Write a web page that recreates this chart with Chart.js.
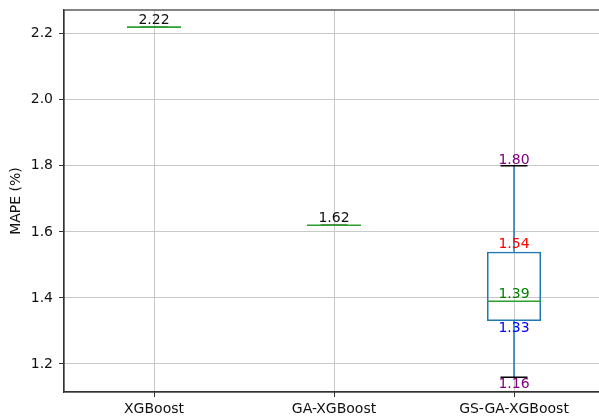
<!DOCTYPE html>
<html>
<head>
<meta charset="utf-8">
<script src="https://cdn.jsdelivr.net/npm/chart.js@4/dist/chart.umd.min.js"></script>
<style>
  html, body { margin: 0; padding: 0; background: #ffffff; overflow: hidden; }
  #wrap { width: 605px; height: 417px; }
</style>
</head>
<body>
<div id="wrap"><canvas id="chart" width="605" height="417"></canvas></div>
<script>
// Box-plot summary of MAPE for each model
const categories = ['XGBoost', 'GA-XGBoost', 'GS-GA-XGBoost'];
const minVals = [2.22, 1.62, 1.16];
const q1Vals  = [2.22, 1.62, 1.33];
const medVals = [2.22, 1.62, 1.39];
const q3Vals  = [2.22, 1.62, 1.54];
const maxVals = [2.22, 1.62, 1.80];
const yTicks  = [1.2, 1.4, 1.6, 1.8, 2.0, 2.2];
const yMin = 1.115, yMax = 2.272;

const FONT = 'DejaVu Sans';
const BOX_BLUE = '#1f77b4';
const MEDIAN_GREEN = '#2ca02c';
const GRID = '#c8c8c8';
const AXIS = '#333333';

// floating bars for the interquartile boxes (skipped where the box collapses)
const boxData = categories.map((c, i) =>
  q3Vals[i] > q1Vals[i] ? [q1Vals[i], q3Vals[i]] : null);

const fmt = v => v.toFixed(2);

const boxPlotPlugin = {
  id: 'boxPlotParts',
  afterDatasetsDraw(chart) {
    const ctx = chart.ctx;
    const xs = chart.scales.x, ys = chart.scales.y;
    const step = xs.getPixelForValue(1) - xs.getPixelForValue(0);
    const boxHalf = step * 0.15;
    const capHalf = boxHalf / 2;
    ctx.save();
    ctx.lineCap = 'butt';
    categories.forEach((c, i) => {
      const x = xs.getPixelForValue(i);
      const pMin = ys.getPixelForValue(minVals[i]);
      const pQ1 = ys.getPixelForValue(q1Vals[i]);
      const pMed = ys.getPixelForValue(medVals[i]);
      const pQ3 = ys.getPixelForValue(q3Vals[i]);
      const pMax = ys.getPixelForValue(maxVals[i]);
      // whiskers
      ctx.strokeStyle = BOX_BLUE;
      ctx.lineWidth = 1.5;
      ctx.beginPath();
      ctx.moveTo(x, pQ3); ctx.lineTo(x, pMax);
      ctx.moveTo(x, pQ1); ctx.lineTo(x, pMin);
      ctx.stroke();
      // caps
      ctx.strokeStyle = '#000000';
      ctx.beginPath();
      ctx.moveTo(x - capHalf, pMax); ctx.lineTo(x + capHalf, pMax);
      ctx.moveTo(x - capHalf, pMin); ctx.lineTo(x + capHalf, pMin);
      ctx.stroke();
      // median
      ctx.strokeStyle = MEDIAN_GREEN;
      ctx.lineWidth = 1.6;
      ctx.beginPath();
      ctx.moveTo(x - boxHalf, pMed); ctx.lineTo(x + boxHalf, pMed);
      ctx.stroke();

      // value labels
      ctx.font = '14px "' + FONT + '"';
      ctx.textAlign = 'center';
      ctx.textBaseline = 'alphabetic';
      const collapsed = maxVals[i] === minVals[i];
      if (collapsed) {
        ctx.fillStyle = '#111111';
        ctx.fillText(fmt(medVals[i]), x, pMed - 3);
      } else {
        ctx.fillStyle = 'purple';
        ctx.fillText(fmt(maxVals[i]), x, pMax - 2);
        ctx.fillStyle = 'red';
        ctx.fillText(fmt(q3Vals[i]), x, pQ3 - 3.5);
        ctx.fillStyle = 'green';
        ctx.fillText(fmt(medVals[i]), x, pMed - 3);
        ctx.fillStyle = 'blue';
        ctx.fillText(fmt(q1Vals[i]), x, pQ1 + 11);
        ctx.fillStyle = 'purple';
        ctx.fillText(fmt(minVals[i]), x, pMin + 10.5);
      }
    });
    // plot frame
    const a = chart.chartArea;
    ctx.strokeStyle = AXIS;
    ctx.lineWidth = 1.2;
    ctx.strokeRect(a.left, a.top, a.right - a.left, a.bottom - a.top);
    ctx.restore();
  }
};

new Chart(document.getElementById('chart'), {
  type: 'bar',
  data: {
    labels: categories,
    datasets: [{
      data: boxData,
      backgroundColor: 'rgba(0,0,0,0)',
      borderColor: BOX_BLUE,
      borderWidth: 1.5,
      borderSkipped: false,
      barPercentage: 0.3,
      categoryPercentage: 1.0
    }]
  },
  options: {
    responsive: false,
    animation: false,
    devicePixelRatio: 1,
    layout: { padding: { left: 0, top: 10, right: 1, bottom: 0 } },
    plugins: { legend: { display: false }, tooltip: { enabled: false } },
    scales: {
      x: {
        offset: true,
        grid: { offset: false, color: GRID, lineWidth: 1, tickColor: AXIS, tickLength: 5 },
        border: { color: AXIS, width: 1.2 },
        ticks: { color: '#111111', font: { family: FONT, size: 14 }, padding: 4, maxRotation: 0 },
        afterFit(s) { s.height = 25; s.paddingLeft = 0; s.paddingRight = 0; }
      },
      y: {
        min: yMin,
        max: yMax,
        grid: { color: GRID, lineWidth: 1, tickColor: AXIS, tickLength: 5 },
        border: { color: AXIS, width: 1.2 },
        ticks: {
          color: '#111111', font: { family: FONT, size: 14 }, padding: 6,
          callback: v => Number(v).toFixed(1)
        },
        afterBuildTicks(s) { s.ticks = yTicks.map(v => ({ value: v })); },
        afterFit(s) { s.width = 64; s.paddingTop = 0; s.paddingBottom = 0; },
        title: {
          display: true, text: 'MAPE (%)', color: '#111111',
          font: { family: FONT, size: 14 }, padding: { top: 8, bottom: 0 }
        }
      }
    }
  },
  plugins: [boxPlotPlugin]
});
</script>
</body>
</html>
